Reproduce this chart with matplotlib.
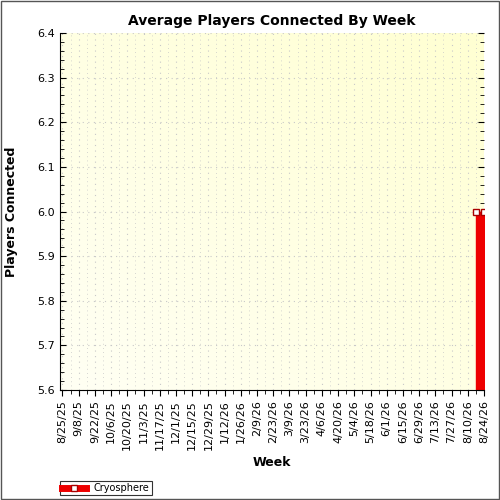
import numpy as np
import pandas as pd
import matplotlib
matplotlib.use("Agg")
import matplotlib.pyplot as plt
from matplotlib.patches import Rectangle
from matplotlib.lines import Line2D

WEEKS = pd.date_range("2025-08-25", "2026-08-24", freq="7D")
PLAYERS = [np.nan] * (len(WEEKS) - 2) + [6.0, 6.0]
LABELS = [f"{d.month}/{d.day}/{d.year % 100}" for d in WEEKS]

fig = plt.figure(figsize=(5, 5), dpi=100)
fig.patch.set_facecolor("white")
fig.patches.append(Rectangle((0.002, 0.002), 0.996, 0.996, transform=fig.transFigure,
                             fill=False, edgecolor="#555555", linewidth=1))
ax = fig.add_axes([0.12, 0.22, 0.848, 0.714])

x = np.arange(len(WEEKS))
ax.set_xlim(-0.3, len(WEEKS) - 1)
ax.set_ylim(5.6, 6.4)

# diagonal yellowish gradient: pale bottom-left, stronger top-right
gx, gy = np.meshgrid(np.linspace(0, 1, 200), np.linspace(0, 1, 200))
grad = (gx + (1 - gy)) / 2
cmap = matplotlib.colors.LinearSegmentedColormap.from_list("bg", ["#ffffd2", "#fffff4"])
ax.imshow(1 - grad, extent=[-0.3, len(WEEKS) - 1, 5.6, 6.4], aspect="auto",
          cmap=cmap, origin="upper", zorder=0)

y = np.array(PLAYERS)
ax.fill_between(x, 5.6, y, where=~np.isnan(y), color="#ee0000", zorder=2)
ax.plot(x, y, color="#ee0000", linewidth=1, marker="s", markersize=5,
        markerfacecolor="white", markeredgecolor="#aa0000", zorder=3)

ax.set_xticks(x[::2])
ax.set_xticklabels(LABELS[::2], rotation=90, fontsize=8)
ax.set_xticks(x, minor=True)
ax.set_yticks(np.arange(5.6, 6.41, 0.1))
ax.set_yticklabels([f"{v:.1f}" for v in np.arange(5.6, 6.41, 0.1)], fontsize=8)
ax.set_yticks(np.arange(5.6, 6.41, 0.02), minor=True)
ax.tick_params(which="both", direction="out", length=4)
ax.tick_params(which="minor", length=3)
ax.tick_params(axis="y", which="both", right=True, direction="in")
ax.grid(True, which="major", color="#c8c8c8", linestyle=(0, (1, 4)), linewidth=0.8)
ax.grid(True, axis="x", which="minor", color="#c8c8c8", linestyle=(0, (1, 4)), linewidth=0.6)
for s in ["top", "right"]:
    ax.spines[s].set_visible(False)

ax.set_title("Average Players Connected By Week", fontsize=10, fontweight="bold")
ax.set_xlabel("Week", fontsize=9, fontweight="bold")
ax.set_ylabel("Players Connected", fontsize=9, fontweight="bold", labelpad=14)

handle = Line2D([], [], color="#ee0000", linewidth=5, marker="s", markersize=5,
                markerfacecolor="white", markeredgecolor="#aa0000")
leg = fig.legend([handle], ["Cryosphere"], loc="lower left", bbox_to_anchor=(0.11, 0.0),
                 fontsize=7, frameon=True, fancybox=False, edgecolor="black",
                 handlelength=2.5, borderpad=0.2)
leg.get_frame().set_linewidth(0.8)

fig.savefig("out.png", dpi=100)
